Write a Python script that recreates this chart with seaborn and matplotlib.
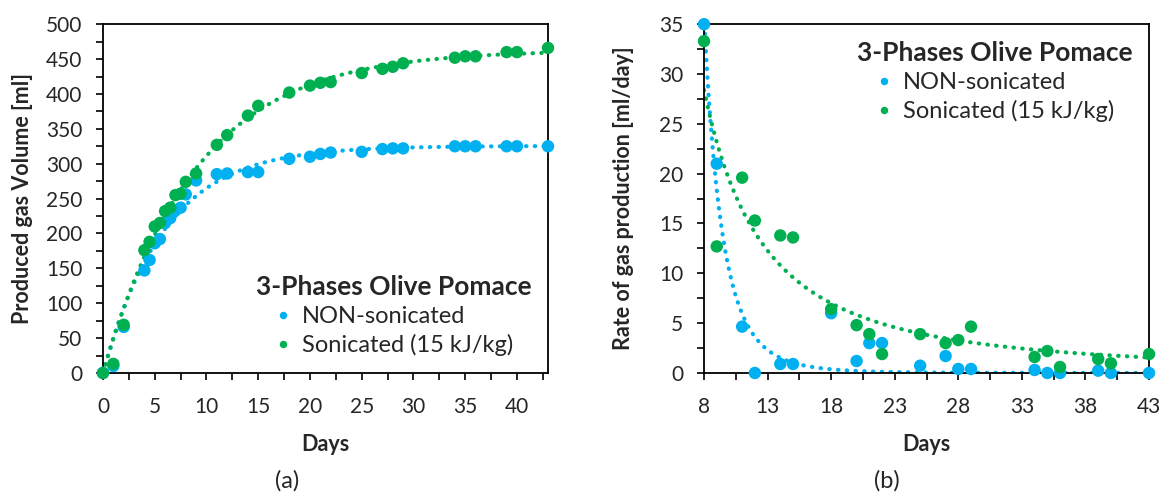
import matplotlib
matplotlib.use("Agg")
import numpy as np
import pandas as pd
import seaborn as sns
import matplotlib.pyplot as plt
from matplotlib.ticker import MultipleLocator

# data
days_a = [0, 1, 2, 4, 4.5, 5, 5.5, 6, 6.5, 7, 7.5, 8, 9, 11, 12, 14, 15, 18, 20, 21,
          22, 25, 27, 28, 29, 34, 35, 36, 39, 40, 43]
vol_non = [0, 10, 66, 147, 162, 186, 192, 215, 222, 233, 237, 256, 276, 285, 286, 288,
           288, 307, 310, 314, 316, 317, 321, 322, 322, 325, 325, 325, 325, 325, 325]
vol_son = [0, 13, 69, 176, 188, 210, 215, 232, 237, 255, 257, 274, 286, 327, 341, 369,
           383, 402, 412, 416, 417, 430, 436, 439, 444, 452, 454, 454, 460, 460, 466]

days_b = [8, 9, 11, 12, 14, 15, 18, 20, 21, 22, 25, 27, 28, 29, 34, 35, 36, 39, 40, 43]
rate_non = [35, 21, 4.65, 0, 0.9, 0.9, 6.0, 1.2, 3.0, 3.0, 0.73, 1.7, 0.4, 0.4, 0.3,
            0, 0, 0.23, 0, 0]
rate_son = [33.3, 12.7, 19.6, 15.3, 13.8, 13.6, 6.4, 4.8, 3.9, 1.9, 3.9, 3.0, 3.3, 4.65,
            1.6, 2.2, 0.6, 1.4, 0.97, 1.9]

labels = ["NON-sonicated", "Sonicated (15 kJ/kg)"]
colors = {"NON-sonicated": "#00B0F0", "Sonicated (15 kJ/kg)": "#00B050"}
legend_title = "3-Phases Olive Pomace"


def fit_first_order(t, v):
    # V = Vm (1 - exp(-k t)), least squares over k
    t = np.asarray(t, float)
    v = np.asarray(v, float)
    best = None
    for k in np.linspace(0.01, 1.0, 2000):
        f = 1 - np.exp(-k * t)
        vm = f @ v / (f @ f)
        err = np.sum((vm * f - v) ** 2)
        if best is None or err < best[0]:
            best = (err, vm, k)
    return best[1], best[2]


def fit_power(t, r):
    # r = a t^-n, least squares over n
    t = np.asarray(t, float)
    r = np.asarray(r, float)
    best = None
    for n in np.linspace(0.1, 8, 2000):
        g = t ** -n
        a = g @ r / (g @ g)
        err = np.sum((a * g - r) ** 2)
        if best is None or err < best[0]:
            best = (err, a, n)
    return best[1], best[2]


df_a = pd.DataFrame({
    "Days": days_a * 2,
    "Volume": vol_non + vol_son,
    "Sample": [labels[0]] * len(days_a) + [labels[1]] * len(days_a),
})
df_b = pd.DataFrame({
    "Days": days_b * 2,
    "Rate": rate_non + rate_son,
    "Sample": [labels[0]] * len(days_b) + [labels[1]] * len(days_b),
})

# trend lines fitted to the data
ta = np.linspace(0, 43, 300)
tb = np.linspace(8, 43, 300)
trend_a = []
trend_b = []
for lab, v, r in zip(labels, [vol_non, vol_son], [rate_non, rate_son]):
    vm, k = fit_first_order(days_a, v)
    trend_a.append(pd.DataFrame({"Days": ta, "Volume": vm * (1 - np.exp(-k * ta)), "Sample": lab}))
    a, n = fit_power(days_b, r)
    trend_b.append(pd.DataFrame({"Days": tb, "Rate": a * tb ** -n, "Sample": lab}))
trend_a = pd.concat(trend_a)
trend_b = pd.concat(trend_b)

sns.set_theme(style="ticks")
plt.rcParams["font.family"] = ["Lato", "DejaVu Sans"]

fig = plt.figure(figsize=(11.65, 4.94), dpi=100)
ax1 = fig.add_axes([0.0884, 0.245, 0.382, 0.706])
ax2 = fig.add_axes([0.6043, 0.245, 0.382, 0.706])

dots = dict(linestyle=(0, (0.1, 2.0)), linewidth=3, dash_capstyle="round")

sns.lineplot(data=trend_a, x="Days", y="Volume", hue="Sample", palette=colors,
             legend=False, ax=ax1, **dots)
sns.scatterplot(data=df_a, x="Days", y="Volume", hue="Sample", palette=colors,
                s=80, edgecolor="none", ax=ax1, clip_on=False, zorder=3)

sns.lineplot(data=trend_b, x="Days", y="Rate", hue="Sample", palette=colors,
             legend=False, ax=ax2, **dots)
sns.scatterplot(data=df_b, x="Days", y="Rate", hue="Sample", palette=colors,
                s=80, edgecolor="none", ax=ax2, clip_on=False, zorder=3)

ax1.set_xlim(0, 43)
ax1.set_ylim(0, 500)
ax1.set_xticks(range(0, 41, 5))
ax1.xaxis.set_minor_locator(MultipleLocator(2.5))
ax1.set_yticks(range(0, 501, 50))
ax1.yaxis.set_minor_locator(MultipleLocator(25))

ax2.set_xlim(8, 43)
ax2.set_ylim(0, 35)
ax2.set_xticks(range(8, 44, 5))
ax2.xaxis.set_minor_locator(MultipleLocator(2.5, offset=0.5))
ax2.set_yticks(range(0, 36, 5))
ax2.yaxis.set_minor_locator(MultipleLocator(2.5))

for ax, ylab in [(ax1, "Produced gas Volume [ml]"), (ax2, "Rate of gas production [ml/day]")]:
    for sp in ax.spines.values():
        sp.set_visible(True)
        sp.set_color("black")
        sp.set_linewidth(1.3)
    ax.tick_params(which="both", direction="out", length=5, width=1.2, color="black")
    ax.tick_params(axis="x", which="major", labelsize=15, pad=12)
    ax.tick_params(axis="y", which="major", labelsize=15, pad=10)
    ax.set_xlabel("Days", fontsize=15.5, fontweight="bold")
    ax.set_ylabel(ylab, fontsize=15.5, fontweight="bold")
    ax.xaxis.set_label_coords(0.5, -0.175)
    ax.yaxis.set_label_coords(-0.157, 0.5)
    h, l = ax.get_legend_handles_labels()
    ax.legend(h, l, title=legend_title, frameon=False, fontsize=17, markerscale=0.6,
              handlelength=0.8, handletextpad=0.4, labelspacing=0.3, borderpad=0.2,
              title_fontproperties={"weight": "bold", "size": 19})

ax1.legend_.set_loc("lower right")
ax1.legend_.set_bbox_to_anchor((1.0, 0.0))
ax2.legend_.set_loc("upper right")
ax2.legend_.set_bbox_to_anchor((1.0, 1.0))

fig.text(287 / 1165, 1 - 481 / 494, "(a)", fontsize=17, ha="center", va="center")
fig.text(887 / 1165, 1 - 481 / 494, "(b)", fontsize=17, ha="center", va="center")

fig.savefig("out.png", dpi=100)
